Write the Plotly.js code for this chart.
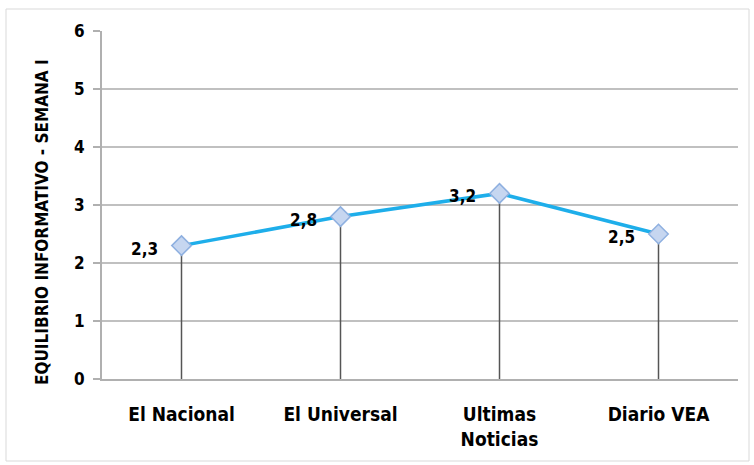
<!DOCTYPE html>
<html><head><meta charset="utf-8">
<script src="https://cdn.plot.ly/plotly-3.0.1.min.js"></script>
<style>html,body{margin:0;padding:0;background:#fff}#c{width:754px;height:465px}</style>
</head><body><div id="c"></div>
<script>
const categories = ['El Nacional', 'El Universal', 'Ultimas<br>Noticias', 'Diario VEA'];
const values = [2.3, 2.8, 3.2, 2.5];
const yTicks = [0, 1, 2, 3, 4, 5, 6];
const yTitle = 'EQUILIBRIO INFORMATIVO - SEMANA I';

const FONT = '"DejaVu Sans Condensed", "Liberation Sans Narrow", "Liberation Sans", Arial, sans-serif';
const labels = values.map(v => String(v).replace('.', ','));

const W = 754, H = 465, L = 102, R = 16, T = 31, B = 86;
const pw = W - L - R, ph = H - T - B;

const trace = {
  x: categories, y: values, type: 'scatter', mode: 'lines+markers',
  line: {color: '#1eaeea', width: 3.5},
  marker: {symbol: 'diamond', size: 15, color: '#c6d6f0', line: {color: '#8fb0e0', width: 1.5}},
  error_y: {type: 'data', symmetric: false, array: values.map(() => 0), arrayminus: values,
            color: '#555555', thickness: 1.5, width: 0},
  hoverinfo: 'none', showlegend: false
};

const annotations = values.map((v, i) => ({
  x: categories[i], y: v, xref: 'x', yref: 'y', text: '<b>' + labels[i] + '</b>',
  showarrow: false, xanchor: 'right', yanchor: 'middle', xshift: -22, yshift: -3,
  font: {family: FONT, size: 17, color: '#000'}
}));
annotations.push({
  xref: 'paper', yref: 'paper', x: (42 - L) / pw, y: (H - B - 222) / ph,
  xanchor: 'center', yanchor: 'middle', textangle: -90, showarrow: false,
  text: '<b>' + yTitle + '</b>', font: {family: FONT, size: 17, color: '#000'}
});

const layout = {
  width: W, height: H,
  margin: {l: L, r: R, t: T, b: B},
  paper_bgcolor: '#fff', plot_bgcolor: '#fff',
  font: {family: FONT, color: '#000'},
  xaxis: {
    type: 'category', range: [-0.5, 3.5], showgrid: false, zeroline: false,
    showline: true, linecolor: '#b0b0b0', linewidth: 2, ticks: '',
    tickfont: {family: FONT, size: 19, color: '#000', weight: 'bold'},
    ticklabelstandoff: 17, fixedrange: true
  },
  yaxis: {
    range: [0, 6], tickvals: yTicks, ticktext: yTicks.map(String),
    showgrid: true, gridcolor: '#c0c0c0', gridwidth: 2, zeroline: false,
    showline: true, linecolor: '#b0b0b0', linewidth: 2,
    ticks: 'outside', ticklen: 7, tickcolor: '#b0b0b0', tickwidth: 2,
    tickfont: {family: FONT, size: 17, color: '#000', weight: 'bold'},
    ticklabelstandoff: 5, fixedrange: true
  },
  annotations: annotations,
  shapes: [{
    type: 'rect', xref: 'paper', yref: 'paper',
    x0: (6 - L) / pw, x1: (749 - L) / pw,
    y0: (H - B - 461) / ph, y1: (H - B - 9) / ph,
    line: {color: '#d9d9d9', width: 1}, fillcolor: 'rgba(0,0,0,0)', layer: 'below'
  }]
};

Plotly.newPlot('c', [trace], layout, {displayModeBar: false, staticPlot: true});
</script></body></html>
